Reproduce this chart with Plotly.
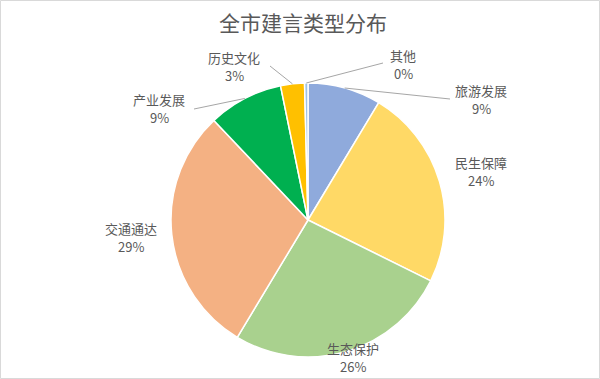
import math
import plotly.graph_objects as go

# ---- data ----
categories = ["旅游发展", "民生保障", "生态保护", "交通通达", "产业发展", "历史文化", "其他"]
values = [43, 118, 131, 146, 44, 14, 2]
colors = ["#8FAADC", "#FFD966", "#A9D18E", "#F4B183", "#00B050", "#FFC000", "#9DC3E6"]
title_text = "全市建言类型分布"

# ---- layout constants (pixels) ----
W, H = 600, 379
CX, CY, R = 308, 220, 137
# label centers (pixel) and leader-line end point (None = no leader)
label_pos = {
    "旅游发展": (481, 99, (450, 99)),
    "民生保障": (481, 171, None),
    "生态保护": (353, 357, None),
    "交通通达": (131, 237, None),
    "产业发展": (159, 109, (194, 109)),
    "历史文化": (234, 66, (270, 66)),
    "其他": (403, 65, (383, 63)),
}
LINE_GAP = 9  # half distance between the two label lines

def px2paper(x, y):
    return x / W, 1 - y / H

fig = go.Figure()
fig.add_trace(go.Pie(
    labels=categories, values=values, sort=False, direction="clockwise",
    rotation=0, marker=dict(colors=colors, line=dict(color="white", width=1.5)),
    textinfo="none", hoverinfo="label+percent", showlegend=False,
    domain=dict(x=[(CX - R) / W, (CX + R) / W],
                y=[(H - CY - R) / H, (H - CY + R) / H]),
))

total = sum(values)
annotations = []
shapes = []
cum = 0
lab_font = dict(family="Noto Sans CJK SC", size=13, color="#595959")
for cat, v in zip(categories, values):
    mid = (cum + v / 2) / total * 2 * math.pi
    cum += v
    lx, ly, end = label_pos[cat]
    pct = round(v / total * 100)
    for txt, yy in ((cat, ly - LINE_GAP), (f"{pct}%", ly + LINE_GAP)):
        ax, ay = px2paper(lx, yy)
        annotations.append(dict(
            x=ax, y=ay, xref="paper", yref="paper", showarrow=False,
            xanchor="center", yanchor="middle", text=txt, font=lab_font,
        ))
    if end is not None:
        sx = CX + R * math.sin(mid)
        sy = CY - R * math.cos(mid)
        x0, y0 = px2paper(sx, sy)
        x1, y1 = px2paper(*end)
        shapes.append(dict(type="line", xref="paper", yref="paper",
                           x0=x0, y0=y0, x1=x1, y1=y1,
                           line=dict(color="#A6A6A6", width=1)))

# title
tx, ty = px2paper(303, 22)
annotations.append(dict(
    x=tx, y=ty, xref="paper", yref="paper", showarrow=False,
    xanchor="center", yanchor="middle",
    text=title_text, font=dict(family="Noto Sans CJK SC", size=21, color="#595959"),
))

# chart border
shapes.append(dict(type="rect", xref="paper", yref="paper",
                   x0=0.5 / W, y0=0.5 / H, x1=1 - 0.5 / W, y1=1 - 0.5 / H,
                   line=dict(color="#D9D9D9", width=1)))

fig.update_layout(
    width=W, height=H, margin=dict(l=0, r=0, t=0, b=0),
    paper_bgcolor="white", plot_bgcolor="white",
    annotations=annotations, shapes=shapes,
)
fig.write_html("out.html", config={"displayModeBar": False},
               post_script="document.body.style.margin='0';")
